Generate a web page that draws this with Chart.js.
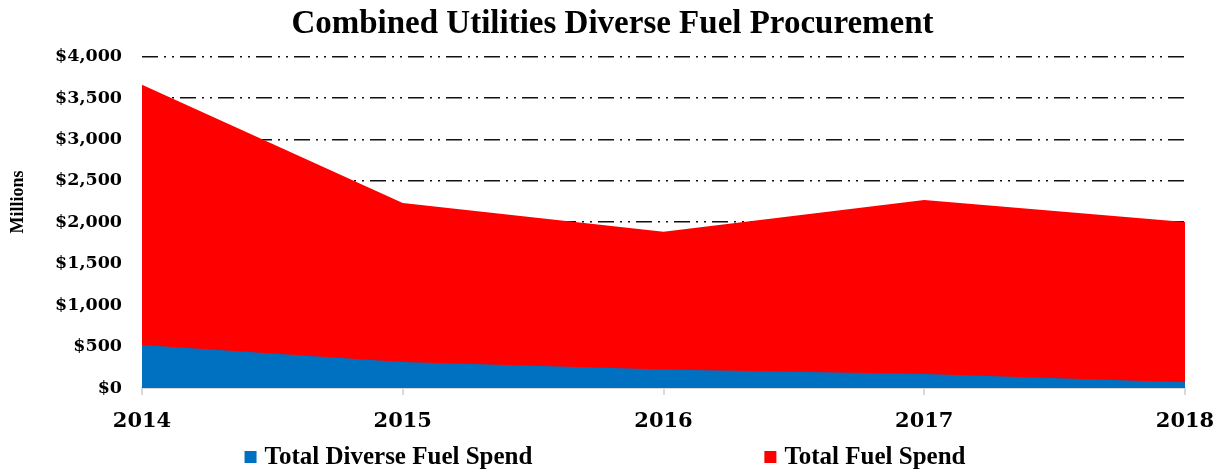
<!DOCTYPE html>
<html>
<head>
<meta charset="utf-8">
<script src="https://cdn.jsdelivr.net/npm/chart.js@4/dist/chart.umd.min.js"></script>
<style>
html,body{margin:0;padding:0;background:#fff;}
#wrap{width:1224px;height:472px;}
</style>
</head>
<body>
<div id="wrap"><canvas id="c" width="1224" height="472"></canvas></div>
<script>
const years = ['2014', '2015', '2016', '2017', '2018'];
const diverseSpend = [520, 315, 222, 169, 68];
const totalSpend = [3660, 2233, 1886, 2269, 2003];
const yTicks = [0, 500, 1000, 1500, 2000, 2500, 3000, 3500, 4000];
const seriesNames = ['Total Diverse Fuel Spend', 'Total Fuel Spend'];
const seriesColors = ['#0070C0', '#FF0000'];

const tickFont = {family: 'DejaVu Serif', weight: 'bold', size: 17.5};
const xFont = {family: 'DejaVu Serif', weight: 'bold', size: 21};
const serif = 'Liberation Serif';

const sideTitle = {
  id: 'sideTitle',
  afterDraw(chart) {
    const ctx = chart.ctx;
    ctx.save();
    ctx.font = 'bold 18px "' + serif + '"';
    ctx.fillStyle = '#000';
    ctx.textAlign = 'center';
    ctx.textBaseline = 'middle';
    ctx.translate(18, 202);
    ctx.rotate(-Math.PI / 2);
    ctx.fillText('Millions', 0, 0);
    ctx.restore();
  }
};

const customLegend = {
  id: 'customLegend',
  afterDraw(chart) {
    const ctx = chart.ctx;
    ctx.save();
    ctx.font = 'bold 25px "' + serif + '"';
    ctx.fillStyle = '#000';
    ctx.textBaseline = 'middle';
    const box = 12, gapText = 8, gapItems = 232;
    const widths = seriesNames.map(n => box + gapText + ctx.measureText(n).width);
    const total = widths[0] + gapItems + widths[1];
    let x = 605 - total / 2;
    const y = 457;
    seriesNames.forEach((name, i) => {
      ctx.fillStyle = seriesColors[i];
      ctx.fillRect(x, y - box / 2, box, box);
      ctx.fillStyle = '#000';
      ctx.textAlign = 'left';
      ctx.fillText(name, x + box + gapText, y + 1);
      x += widths[i] + gapItems;
    });
    ctx.restore();
  }
};

new Chart(document.getElementById('c'), {
  type: 'line',
  data: {
    labels: years,
    datasets: [
      {label: seriesNames[0], data: diverseSpend, backgroundColor: seriesColors[0], borderWidth: 0, pointRadius: 0, fill: 'origin', tension: 0},
      {label: seriesNames[1], data: totalSpend, backgroundColor: seriesColors[1], borderWidth: 0, pointRadius: 0, fill: 'origin', tension: 0}
    ]
  },
  options: {
    responsive: false,
    devicePixelRatio: 1,
    animation: false,
    layout: {padding: {left: 40, right: 39, top: 0, bottom: 0}},
    plugins: {
      legend: {display: false},
      tooltip: {enabled: false},
      title: {
        display: true,
        text: 'Combined Utilities Diverse Fuel Procurement',
        color: '#000',
        font: {family: serif, weight: 'bold', size: 33, lineHeight: 1.2},
        padding: {top: 5, bottom: 12}
      }
    },
    scales: {
      x: {
        type: 'category',
        offset: false,
        afterFit(scale) { scale.height = 84; scale.paddingLeft = 0; scale.paddingRight = 0; },
        grid: {drawOnChartArea: false, drawTicks: true, tickLength: 7, color: '#d9d9d9', lineWidth: 2},
        border: {display: true, color: '#d9d9d9', width: 2},
        ticks: {color: '#000', font: xFont, padding: 14, maxRotation: 0, autoSkip: false}
      },
      y: {
        min: 0,
        max: 4000,
        afterFit(scale) { scale.width = 102; },
        afterBuildTicks(scale) { scale.ticks = yTicks.map(v => ({value: v})); },
        grid: {
          drawTicks: false,
          color: c => (c.tick && c.tick.value === 0) ? 'rgba(0,0,0,0)' : '#111',
          lineWidth: 1.6,
          borderDash: [16, 6, 2, 6, 2, 6]
        },
        border: {display: false, dash: [16, 6, 2, 6, 2, 6]},
        ticks: {
          color: '#000',
          font: tickFont,
          padding: 20,
          callback: v => '$' + Number(v).toLocaleString('en-US')
        }
      }
    }
  },
  plugins: [sideTitle, customLegend]
});
</script>
</body>
</html>
